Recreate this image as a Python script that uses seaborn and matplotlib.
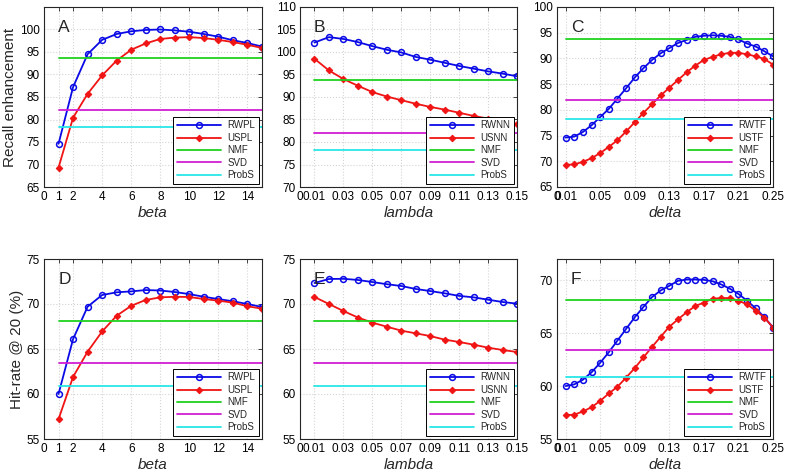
import numpy as np
import pandas as pd
import matplotlib
matplotlib.use('Agg')
import matplotlib.pyplot as plt
import seaborn as sns

# x values of the three parameter sweeps
beta = np.arange(1, 16)
lam = np.round(np.arange(1, 16) * 0.01, 2)
delta = np.round(np.arange(1, 26) * 0.01, 2)

# recall enhancement (top row)
rwpl_recall = [74.6, 87.2, 94.5, 97.7, 99.0, 99.6, 99.9, 100.0, 99.8, 99.5, 99.0, 98.4, 97.6, 97.0, 96.2]
uspl_recall = [69.3, 80.4, 85.7, 89.8, 93.1, 95.5, 96.9, 97.9, 98.2, 98.3, 98.1, 97.7, 97.2, 96.6, 95.9]
rwnn_recall = [102.1, 103.3, 102.9, 102.2, 101.3, 100.5, 99.9, 98.9, 98.3, 97.6, 96.9, 96.3, 95.7, 95.2, 94.6]
usnn_recall = [98.5, 95.9, 94.0, 92.5, 91.1, 90.1, 89.3, 88.5, 87.8, 87.2, 86.5, 85.8, 85.2, 84.6, 84.0]
rwtf_recall = [74.6, 74.8, 75.7, 77.0, 78.6, 80.2, 82.2, 84.2, 86.3, 88.1, 89.7, 91.0, 92.0, 93.0, 93.6,
               94.2, 94.4, 94.5, 94.4, 94.2, 93.7, 92.9, 92.3, 91.4, 90.4]
ustf_recall = [69.3, 69.4, 69.9, 70.6, 71.6, 72.8, 74.1, 75.8, 77.6, 79.4, 81.1, 82.8, 84.3, 85.8, 87.3,
               88.6, 89.7, 90.3, 90.8, 91.1, 91.1, 90.8, 90.4, 89.9, 88.8]
base_recall = {'NMF': 93.7, 'SVD': 82.0, 'ProbS': 78.25}

# hit-rate @ 20 (bottom row)
rwpl_hit = [60.0, 66.1, 69.7, 71.0, 71.3, 71.4, 71.55, 71.5, 71.33, 71.1, 70.8, 70.55, 70.3, 70.0, 69.67]
uspl_hit = [57.2, 61.9, 64.7, 66.95, 68.7, 69.8, 70.45, 70.74, 70.8, 70.78, 70.55, 70.37, 70.15, 69.75, 69.48]
rwnn_hit = [72.33, 72.78, 72.8, 72.67, 72.44, 72.2, 72.0, 71.67, 71.44, 71.19, 70.9, 70.74, 70.48, 70.22, 70.04]
usnn_hit = [70.78, 70.0, 69.22, 68.5, 67.93, 67.48, 67.04, 66.74, 66.44, 66.04, 65.78, 65.48, 65.15, 64.89, 64.67]
rwtf_hit = [60.0, 60.16, 60.6, 61.3, 62.2, 63.2, 64.3, 65.4, 66.5, 67.47, 68.4, 69.03, 69.47, 69.94, 70.06,
            70.06, 70.03, 69.9, 69.6, 69.2, 68.7, 68.06, 67.34, 66.5, 65.53]
ustf_hit = [57.25, 57.3, 57.6, 58.0, 58.6, 59.3, 59.94, 60.8, 61.7, 62.7, 63.7, 64.66, 65.6, 66.3, 66.97,
            67.56, 67.88, 68.25, 68.31, 68.31, 68.06, 67.72, 67.12, 66.47, 65.53]
base_hit = {'NMF': 68.1, 'SVD': 63.44, 'ProbS': 60.86}

beta_ticks = [0, 1, 2, 4, 6, 8, 10, 12, 14]
lam_ticks = [0, 0.01, 0.03, 0.05, 0.07, 0.09, 0.11, 0.13, 0.15]
delta_ticks = [0, 0.01, 0.05, 0.09, 0.13, 0.17, 0.21, 0.25]

sns.set_style('white')
plt.rcParams['font.family'] = ['Liberation Sans', 'DejaVu Sans']

BLUE = '#0a0ae6'
RED = '#f01414'
base_colors = {'NMF': '#1ed21e', 'SVD': '#d21ed2', 'ProbS': '#28e6e6'}

fig = plt.figure(figsize=(7.86, 4.74), dpi=100)
lefts = [44 / 786, 300 / 786, 557 / 786]
widths = [218 / 786, 217 / 786, 216 / 786]
bottoms = [1 - 187 / 474, 1 - 439 / 474]
h = 180 / 474

panels = [
    # letter, x, series1, name1, series2, name2, baselines, xlim, xticks, ylim, yticks, xlabel
    ('A', beta, rwpl_recall, 'RWPL', uspl_recall, 'USPL', base_recall, (0, 15), beta_ticks, (65, 105), np.arange(65, 101, 5), 'beta'),
    ('B', lam, rwnn_recall, 'RWNN', usnn_recall, 'USNN', base_recall, (0, 0.15), lam_ticks, (70, 110), np.arange(70, 111, 5), 'lambda'),
    ('C', delta, rwtf_recall, 'RWTF', ustf_recall, 'USTF', base_recall, (0, 0.25), delta_ticks, (65, 100), np.arange(65, 101, 5), 'delta'),
    ('D', beta, rwpl_hit, 'RWPL', uspl_hit, 'USPL', base_hit, (0, 15), beta_ticks, (55, 75), np.arange(55, 76, 5), 'beta'),
    ('E', lam, rwnn_hit, 'RWNN', usnn_hit, 'USNN', base_hit, (0, 0.15), lam_ticks, (55, 75), np.arange(55, 76, 5), 'lambda'),
    ('F', delta, rwtf_hit, 'RWTF', ustf_hit, 'USTF', base_hit, (0, 0.25), delta_ticks, (55, 72), np.arange(55, 71, 5), 'delta'),
]

for i, (letter, xs, s1, n1, s2, n2, base, xlim, xt, ylim, yt, xlab) in enumerate(panels):
    ax = fig.add_axes([lefts[i % 3], bottoms[i // 3], widths[i % 3], h])
    sns.lineplot(x=xs, y=s1, ax=ax, color=BLUE, lw=1.3, marker='o', ms=4.2,
                 mfc='none', mec=BLUE, mew=1.1, label=n1)
    sns.lineplot(x=xs, y=s2, ax=ax, color=RED, lw=1.3, marker='D', ms=3.3,
                 mfc=RED, mec=RED, label=n2)
    for name, v in base.items():
        sns.lineplot(x=xs, y=np.full(len(xs), v), ax=ax, color=base_colors[name], lw=1.3, label=name)

    ax.set_xlim(*xlim)
    ax.set_ylim(*ylim)
    ax.set_xticks(xt)
    ax.set_xticklabels(['0'] + [('%g' % t) for t in xt[1:]])
    ax.set_yticks(yt)
    ax.grid(True, color='#d4d4d4', linestyle=':', linewidth=0.8)
    ax.tick_params(direction='in', length=3, width=0.6, labelsize=8.5, pad=3,
                   top=True, right=True, colors='#262626', labelcolor='black')
    for sp in ax.spines.values():
        sp.set_color('#262626')
        sp.set_linewidth(0.8)
    ax.set_xlabel(xlab, fontsize=11, style='italic', labelpad=2)
    ax.set_ylabel('')
    ax.text(0.065, 0.93, letter, transform=ax.transAxes, fontsize=12.5, va='top', ha='left')

    leg = ax.legend(loc='lower right', fontsize=7, frameon=True, fancybox=False,
                    framealpha=1, edgecolor='black', handlelength=4.6,
                    borderaxespad=0.35, borderpad=0.35, labelspacing=0.25, handletextpad=0.6)
    leg.get_frame().set_linewidth(0.7)

    if letter == 'A':
        ax.set_ylabel('Recall enhancement', fontsize=11, labelpad=2)
    if letter == 'D':
        ax.set_ylabel('Hit-rate @ 20 (%)', fontsize=11, labelpad=2)

fig.savefig('out.png', dpi=100)
